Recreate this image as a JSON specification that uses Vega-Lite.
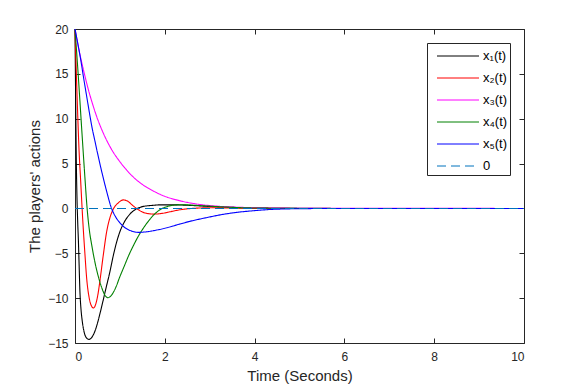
{
  "$schema": "https://vega.github.io/schema/vega-lite/v6.json",
  "width": 449,
  "height": 314,
  "autosize": "none",
  "padding": {"left": 75, "top": 29, "right": 55, "bottom": 46},
  "background": "white",
  "config": {
    "font": "Liberation Sans",
    "view": {"stroke": "#262626", "strokeWidth": 1},
    "axis": {
      "grid": false,
      "domain": false,
      "tickColor": "#262626",
      "tickSize": -5,
      "tickWidth": 1,
      "labelColor": "#262626",
      "labelFont": "Liberation Sans",
      "labelFontSize": 12,
      "titleColor": "#262626",
      "titleFont": "Liberation Sans",
      "titleFontSize": 15,
      "titleFontWeight": "normal"
    }
  },
  "datasets": {
    "curves": [
      {"s": "x₁(t)", "t": 0, "v": 20}, {"s": "x₁(t)", "t": 0.015, "v": 12}, {"s": "x₁(t)", "t": 0.03, "v": 5}, {"s": "x₁(t)", "t": 0.045, "v": 1}, {"s": "x₁(t)", "t": 0.06, "v": -1.5}, {"s": "x₁(t)", "t": 0.075, "v": -3.5}, {"s": "x₁(t)", "t": 0.09, "v": -6}, {"s": "x₁(t)", "t": 0.11, "v": -9.3}, {"s": "x₁(t)", "t": 0.13, "v": -11}, {"s": "x₁(t)", "t": 0.16, "v": -12.5}, {"s": "x₁(t)", "t": 0.2, "v": -13.7}, {"s": "x₁(t)", "t": 0.25, "v": -14.4}, {"s": "x₁(t)", "t": 0.31, "v": -14.6}, {"s": "x₁(t)", "t": 0.37, "v": -14.4}, {"s": "x₁(t)", "t": 0.45, "v": -13.6}, {"s": "x₁(t)", "t": 0.5, "v": -12.8}, {"s": "x₁(t)", "t": 0.557, "v": -11.7}, {"s": "x₁(t)", "t": 0.62, "v": -10.4}, {"s": "x₁(t)", "t": 0.68, "v": -9.1}, {"s": "x₁(t)", "t": 0.78, "v": -7.0}, {"s": "x₁(t)", "t": 0.86, "v": -5.1}, {"s": "x₁(t)", "t": 0.93, "v": -3.7}, {"s": "x₁(t)", "t": 1.0, "v": -2.6}, {"s": "x₁(t)", "t": 1.1, "v": -1.5}, {"s": "x₁(t)", "t": 1.22, "v": -0.65}, {"s": "x₁(t)", "t": 1.35, "v": -0.1}, {"s": "x₁(t)", "t": 1.5, "v": 0.2}, {"s": "x₁(t)", "t": 1.7, "v": 0.33}, {"s": "x₁(t)", "t": 1.9, "v": 0.4}, {"s": "x₁(t)", "t": 2.2, "v": 0.4}, {"s": "x₁(t)", "t": 2.6, "v": 0.33}, {"s": "x₁(t)", "t": 3.0, "v": 0.22}, {"s": "x₁(t)", "t": 3.5, "v": 0.12}, {"s": "x₁(t)", "t": 4.0, "v": 0.05}, {"s": "x₁(t)", "t": 4.5, "v": 0.02}, {"s": "x₁(t)", "t": 5, "v": 0.005}, {"s": "x₁(t)", "t": 6, "v": 0}, {"s": "x₁(t)", "t": 10, "v": 0},

      {"s": "x₂(t)", "t": 0, "v": 20}, {"s": "x₂(t)", "t": 0.03, "v": 15}, {"s": "x₂(t)", "t": 0.06, "v": 10.5}, {"s": "x₂(t)", "t": 0.09, "v": 6.5}, {"s": "x₂(t)", "t": 0.127, "v": 3}, {"s": "x₂(t)", "t": 0.155, "v": 0.3}, {"s": "x₂(t)", "t": 0.186, "v": -2.4}, {"s": "x₂(t)", "t": 0.22, "v": -5}, {"s": "x₂(t)", "t": 0.26, "v": -7.8}, {"s": "x₂(t)", "t": 0.31, "v": -9.8}, {"s": "x₂(t)", "t": 0.36, "v": -10.8}, {"s": "x₂(t)", "t": 0.41, "v": -11.1}, {"s": "x₂(t)", "t": 0.46, "v": -10.7}, {"s": "x₂(t)", "t": 0.51, "v": -9.6}, {"s": "x₂(t)", "t": 0.557, "v": -8.0}, {"s": "x₂(t)", "t": 0.63, "v": -5.2}, {"s": "x₂(t)", "t": 0.705, "v": -2.6}, {"s": "x₂(t)", "t": 0.78, "v": -1.0}, {"s": "x₂(t)", "t": 0.85, "v": -0.1}, {"s": "x₂(t)", "t": 0.96, "v": 0.6}, {"s": "x₂(t)", "t": 1.08, "v": 0.95}, {"s": "x₂(t)", "t": 1.19, "v": 0.75}, {"s": "x₂(t)", "t": 1.28, "v": 0.35}, {"s": "x₂(t)", "t": 1.37, "v": 0.0}, {"s": "x₂(t)", "t": 1.48, "v": -0.35}, {"s": "x₂(t)", "t": 1.6, "v": -0.55}, {"s": "x₂(t)", "t": 1.75, "v": -0.63}, {"s": "x₂(t)", "t": 1.9, "v": -0.58}, {"s": "x₂(t)", "t": 2.12, "v": -0.37}, {"s": "x₂(t)", "t": 2.34, "v": -0.15}, {"s": "x₂(t)", "t": 2.6, "v": 0.0}, {"s": "x₂(t)", "t": 3.0, "v": 0.07}, {"s": "x₂(t)", "t": 3.5, "v": 0.05}, {"s": "x₂(t)", "t": 4, "v": 0.01}, {"s": "x₂(t)", "t": 5, "v": 0}, {"s": "x₂(t)", "t": 10, "v": 0},

      {"s": "x₃(t)", "t": 0, "v": 20}, {"s": "x₃(t)", "t": 0.1, "v": 17.4}, {"s": "x₃(t)", "t": 0.2, "v": 15.2}, {"s": "x₃(t)", "t": 0.3, "v": 13.2}, {"s": "x₃(t)", "t": 0.4, "v": 11.5}, {"s": "x₃(t)", "t": 0.5, "v": 10.0}, {"s": "x₃(t)", "t": 0.6, "v": 8.74}, {"s": "x₃(t)", "t": 0.8, "v": 6.7}, {"s": "x₃(t)", "t": 1.0, "v": 5.2}, {"s": "x₃(t)", "t": 1.2, "v": 4.0}, {"s": "x₃(t)", "t": 1.4, "v": 3.05}, {"s": "x₃(t)", "t": 1.6, "v": 2.35}, {"s": "x₃(t)", "t": 1.8, "v": 1.8}, {"s": "x₃(t)", "t": 2.0, "v": 1.35}, {"s": "x₃(t)", "t": 2.3, "v": 0.9}, {"s": "x₃(t)", "t": 2.6, "v": 0.58}, {"s": "x₃(t)", "t": 3.0, "v": 0.32}, {"s": "x₃(t)", "t": 3.5, "v": 0.16}, {"s": "x₃(t)", "t": 4.0, "v": 0.08}, {"s": "x₃(t)", "t": 4.5, "v": 0.04}, {"s": "x₃(t)", "t": 5, "v": 0.02}, {"s": "x₃(t)", "t": 6, "v": 0.005}, {"s": "x₃(t)", "t": 10, "v": 0},

      {"s": "x₄(t)", "t": 0, "v": 20}, {"s": "x₄(t)", "t": 0.07, "v": 15}, {"s": "x₄(t)", "t": 0.15, "v": 8.8}, {"s": "x₄(t)", "t": 0.22, "v": 3.5}, {"s": "x₄(t)", "t": 0.27, "v": 0}, {"s": "x₄(t)", "t": 0.33, "v": -2.8}, {"s": "x₄(t)", "t": 0.37, "v": -4}, {"s": "x₄(t)", "t": 0.42, "v": -5.4}, {"s": "x₄(t)", "t": 0.47, "v": -6.6}, {"s": "x₄(t)", "t": 0.52, "v": -7.6}, {"s": "x₄(t)", "t": 0.6, "v": -8.9}, {"s": "x₄(t)", "t": 0.67, "v": -9.7}, {"s": "x₄(t)", "t": 0.73, "v": -9.95}, {"s": "x₄(t)", "t": 0.8, "v": -9.75}, {"s": "x₄(t)", "t": 0.9, "v": -8.9}, {"s": "x₄(t)", "t": 1.0, "v": -7.6}, {"s": "x₄(t)", "t": 1.1, "v": -6.4}, {"s": "x₄(t)", "t": 1.2, "v": -5.2}, {"s": "x₄(t)", "t": 1.3, "v": -4.15}, {"s": "x₄(t)", "t": 1.41, "v": -3.1}, {"s": "x₄(t)", "t": 1.55, "v": -2.0}, {"s": "x₄(t)", "t": 1.67, "v": -1.2}, {"s": "x₄(t)", "t": 1.78, "v": -0.6}, {"s": "x₄(t)", "t": 1.89, "v": -0.15}, {"s": "x₄(t)", "t": 2.0, "v": 0.12}, {"s": "x₄(t)", "t": 2.12, "v": 0.3}, {"s": "x₄(t)", "t": 2.34, "v": 0.41}, {"s": "x₄(t)", "t": 2.56, "v": 0.38}, {"s": "x₄(t)", "t": 2.9, "v": 0.28}, {"s": "x₄(t)", "t": 3.23, "v": 0.19}, {"s": "x₄(t)", "t": 3.6, "v": 0.1}, {"s": "x₄(t)", "t": 3.97, "v": 0.05}, {"s": "x₄(t)", "t": 4.5, "v": 0.02}, {"s": "x₄(t)", "t": 5, "v": 0}, {"s": "x₄(t)", "t": 10, "v": 0},

      {"s": "x₅(t)", "t": 0, "v": 20}, {"s": "x₅(t)", "t": 0.065, "v": 18.3}, {"s": "x₅(t)", "t": 0.13, "v": 16.5}, {"s": "x₅(t)", "t": 0.19, "v": 14.6}, {"s": "x₅(t)", "t": 0.25, "v": 12.8}, {"s": "x₅(t)", "t": 0.32, "v": 10.7}, {"s": "x₅(t)", "t": 0.38, "v": 9}, {"s": "x₅(t)", "t": 0.44, "v": 7.6}, {"s": "x₅(t)", "t": 0.5, "v": 6.2}, {"s": "x₅(t)", "t": 0.6, "v": 4.0}, {"s": "x₅(t)", "t": 0.7, "v": 2.0}, {"s": "x₅(t)", "t": 0.8, "v": 0.2}, {"s": "x₅(t)", "t": 0.9, "v": -0.9}, {"s": "x₅(t)", "t": 1.0, "v": -1.6}, {"s": "x₅(t)", "t": 1.1, "v": -2.1}, {"s": "x₅(t)", "t": 1.25, "v": -2.5}, {"s": "x₅(t)", "t": 1.41, "v": -2.67}, {"s": "x₅(t)", "t": 1.6, "v": -2.6}, {"s": "x₅(t)", "t": 1.82, "v": -2.41}, {"s": "x₅(t)", "t": 2.05, "v": -2.15}, {"s": "x₅(t)", "t": 2.26, "v": -1.85}, {"s": "x₅(t)", "t": 2.55, "v": -1.45}, {"s": "x₅(t)", "t": 2.86, "v": -1.1}, {"s": "x₅(t)", "t": 3.2, "v": -0.75}, {"s": "x₅(t)", "t": 3.6, "v": -0.44}, {"s": "x₅(t)", "t": 4.0, "v": -0.25}, {"s": "x₅(t)", "t": 4.34, "v": -0.12}, {"s": "x₅(t)", "t": 5, "v": -0.03}, {"s": "x₅(t)", "t": 6, "v": 0}, {"s": "x₅(t)", "t": 10, "v": 0}
    ],
    "zero": [
      {"s": "0", "t": 0, "v": 0}, {"s": "0", "t": 10, "v": 0}
    ]
  },
  "layer": [
    {
      "data": {"name": "curves"},
      "mark": {"type": "line", "strokeWidth": 1.1, "interpolate": "monotone"},
      "encoding": {
        "x": {"field": "t", "type": "quantitative", "scale": {"domain": [0, 10], "nice": false},
              "axis": {"orient": "bottom", "values": [0, 2, 4, 6, 8, 10], "labelPadding": 13, "title": "Time (Seconds)", "titlePadding": 6}},
        "y": {"field": "v", "type": "quantitative", "scale": {"domain": [-15, 20], "nice": false, "zero": false},
              "axis": {"orient": "left", "values": [-15, -10, -5, 0, 5, 10, 15, 20], "labelPadding": 12, "title": "The players' actions", "titlePadding": 5}},
        "color": {"field": "s", "type": "nominal",
                  "scale": {"domain": ["x₁(t)", "x₂(t)", "x₃(t)", "x₄(t)", "x₅(t)", "0"], "range": ["#000000", "#ff0000", "#ff00ff", "#008000", "#0000ff", "#0072bd"]},
                  "legend": {"title": null, "orient": "none", "legendX": 352, "legendY": 14, "symbolType": "M-2,0H2", "symbolSize": 441, "symbolStrokeWidth": 1, "rowPadding": 4, "padding": 2, "symbolOffset": 18, "labelOffset": 14, "strokeColor": "#262626", "fillColor": "white", "labelFont": "Liberation Sans", "labelFontSize": 13, "labelColor": "#000000"}},
        "strokeDash": {"field": "s", "type": "nominal",
                  "scale": {"domain": ["x₁(t)", "x₂(t)", "x₃(t)", "x₄(t)", "x₅(t)", "0"], "range": [[1, 0], [1, 0], [1, 0], [1, 0], [1, 0], [9, 5]]},
                  "legend": {"title": null, "orient": "none", "legendX": 352, "legendY": 14, "symbolType": "M-2,0H2", "symbolSize": 441, "symbolStrokeWidth": 1, "rowPadding": 4, "padding": 2, "symbolOffset": 18, "labelOffset": 14, "strokeColor": "#262626", "fillColor": "white", "labelFont": "Liberation Sans", "labelFontSize": 13, "labelColor": "#000000"}}
      }
    },
    {
      "data": {"name": "zero"},
      "mark": {"type": "line", "strokeWidth": 1.1},
      "encoding": {
        "x": {"field": "t", "type": "quantitative", "axis": {"orient": "top", "values": [0, 2, 4, 6, 8, 10], "labels": false, "title": null}},
        "y": {"field": "v", "type": "quantitative", "axis": {"orient": "right", "values": [-15, -10, -5, 0, 5, 10, 15, 20], "labels": false, "title": null}},
        "color": {"field": "s", "type": "nominal"},
        "strokeDash": {"field": "s", "type": "nominal"}
      }
    }
  ],
  "resolve": {"axis": {"x": "independent", "y": "independent"}}
}
